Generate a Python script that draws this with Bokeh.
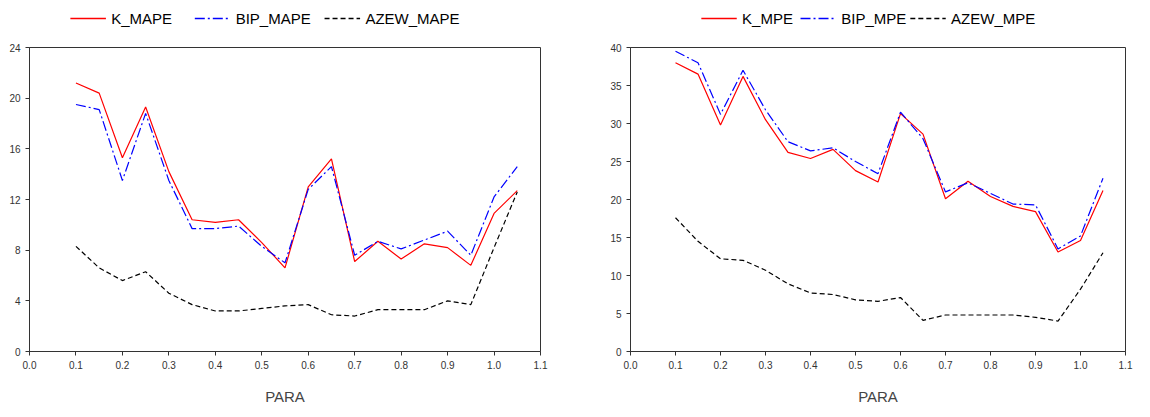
from bokeh.plotting import figure
from bokeh.layouts import row, column
from bokeh.models import Range1d, FixedTicker, NumeralTickFormatter
from bokeh.core.properties import value
from bokeh.embed import file_html
from bokeh.resources import INLINE

para = [0.10, 0.15, 0.20, 0.25, 0.30, 0.35, 0.40, 0.45, 0.50, 0.55,
        0.60, 0.65, 0.70, 0.75, 0.80, 0.85, 0.90, 0.95, 1.00, 1.05]

k_mape = [21.2, 20.4, 15.3, 19.3, 14.2, 10.4, 10.2, 10.4, 8.6, 6.6,
          13.0, 15.2, 7.1, 8.7, 7.3, 8.5, 8.2, 6.8, 10.9, 12.7]
bip_mape = [19.5, 19.1, 13.5, 18.8, 13.5, 9.7, 9.7, 9.9, 8.3, 7.0,
            12.8, 14.6, 7.6, 8.7, 8.1, 8.8, 9.5, 7.6, 12.2, 14.6]
azew_mape = [8.3, 6.6, 5.6, 6.3, 4.6, 3.7, 3.2, 3.2, 3.4, 3.6,
             3.7, 2.9, 2.8, 3.3, 3.3, 3.3, 4.0, 3.7, 8.2, 12.6]

k_mpe = [38.0, 36.5, 29.8, 36.2, 30.5, 26.2, 25.4, 26.6, 23.8, 22.3,
         31.3, 28.6, 20.1, 22.4, 20.4, 19.1, 18.4, 13.1, 14.6, 21.2]
bip_mpe = [39.5, 38.0, 31.2, 37.0, 31.8, 27.6, 26.4, 26.8, 25.0, 23.4,
           31.5, 28.0, 21.0, 22.2, 20.8, 19.4, 19.3, 13.5, 15.2, 22.8]
azew_mpe = [17.6, 14.5, 12.2, 12.0, 10.7, 8.9, 7.7, 7.5, 6.8, 6.6,
            7.1, 4.1, 4.8, 4.8, 4.8, 4.8, 4.5, 4.0, 8.2, 13.0]

x_ticks = [0.0, 0.1, 0.2, 0.3, 0.4, 0.5, 0.6, 0.7, 0.8, 0.9, 1.0, 1.1]
FONT = "Liberation Sans"
STYLES = [("red", "solid"), ("blue", "10 3 2 3"), ("black", "5 3")]


def make_legend(names, width, starts):
    # hand-made legend strip above each chart (pixel coords)
    lf = figure(width=width, height=39, output_backend="svg", toolbar_location=None,
                x_range=Range1d(0, width), y_range=Range1d(0, 39),
                x_axis_type=None, y_axis_type=None, min_border=0)
    lf.grid.visible = False
    lf.outline_line_color = None
    for nm, x0, (c, d) in zip(names, starts, STYLES):
        lf.line([x0, x0 + 40], [21, 21], line_color=c, line_dash=d, line_width=1.5)
        lf.text([x0 + 46], [21], text=[nm], text_font=value(FONT),
                text_font_size="15px", text_baseline="middle", text_color="black")
    return lf


def make_plot(series, ymax, yticks, width, left, right):
    p = figure(width=width, height=368, output_backend="svg", toolbar_location=None,
               x_range=Range1d(0, 1.1), y_range=Range1d(0, ymax),
               min_border_left=left, min_border_right=right,
               min_border_top=8, min_border_bottom=5)
    p.xgrid.visible = False
    p.ygrid.visible = False
    p.outline_line_color = "#333333"
    p.xaxis.ticker = FixedTicker(ticks=x_ticks)
    p.xaxis.formatter = NumeralTickFormatter(format="0.0")
    p.yaxis.ticker = FixedTicker(ticks=yticks)
    p.xaxis.axis_label = "PARA"
    for ax in (p.xaxis, p.yaxis):
        ax.minor_tick_line_color = None
        ax.major_label_text_font = FONT
        ax.major_label_text_font_size = "10px"
        ax.major_label_text_color = "#333333"
        ax.axis_label_text_font = FONT
        ax.axis_label_text_font_size = "15px"
        ax.axis_label_text_font_style = "normal"
        ax.axis_line_color = "#333333"
        ax.major_tick_line_color = "#333333"
        ax.major_tick_out = 4
        ax.major_tick_in = 0
    p.xaxis.axis_label_standoff = 16
    for ys, (c, d) in zip(series, STYLES):
        p.line(para, ys, line_color=c, line_dash=d, line_width=1.2)
    return p


l1 = make_legend(["K_MAPE", "BIP_MAPE", "AZEW_MAPE"], 575, [46, 186, 332])
p1 = make_plot([k_mape, bip_mape, azew_mape], 24, [0, 4, 8, 12, 16, 20, 24], 575, 29, 35)
l2 = make_legend(["K_MPE", "BIP_MPE", "AZEW_MPE"], 559, [80, 192, 316])
p2 = make_plot([k_mpe, bip_mpe, azew_mpe], 40, [0, 5, 10, 15, 20, 25, 30, 35, 40], 559, 55, 9)

layout = row(column(l1, p1, spacing=0), column(l2, p2, spacing=0), spacing=0)
open("out.html", "w").write(file_html(layout, INLINE))
